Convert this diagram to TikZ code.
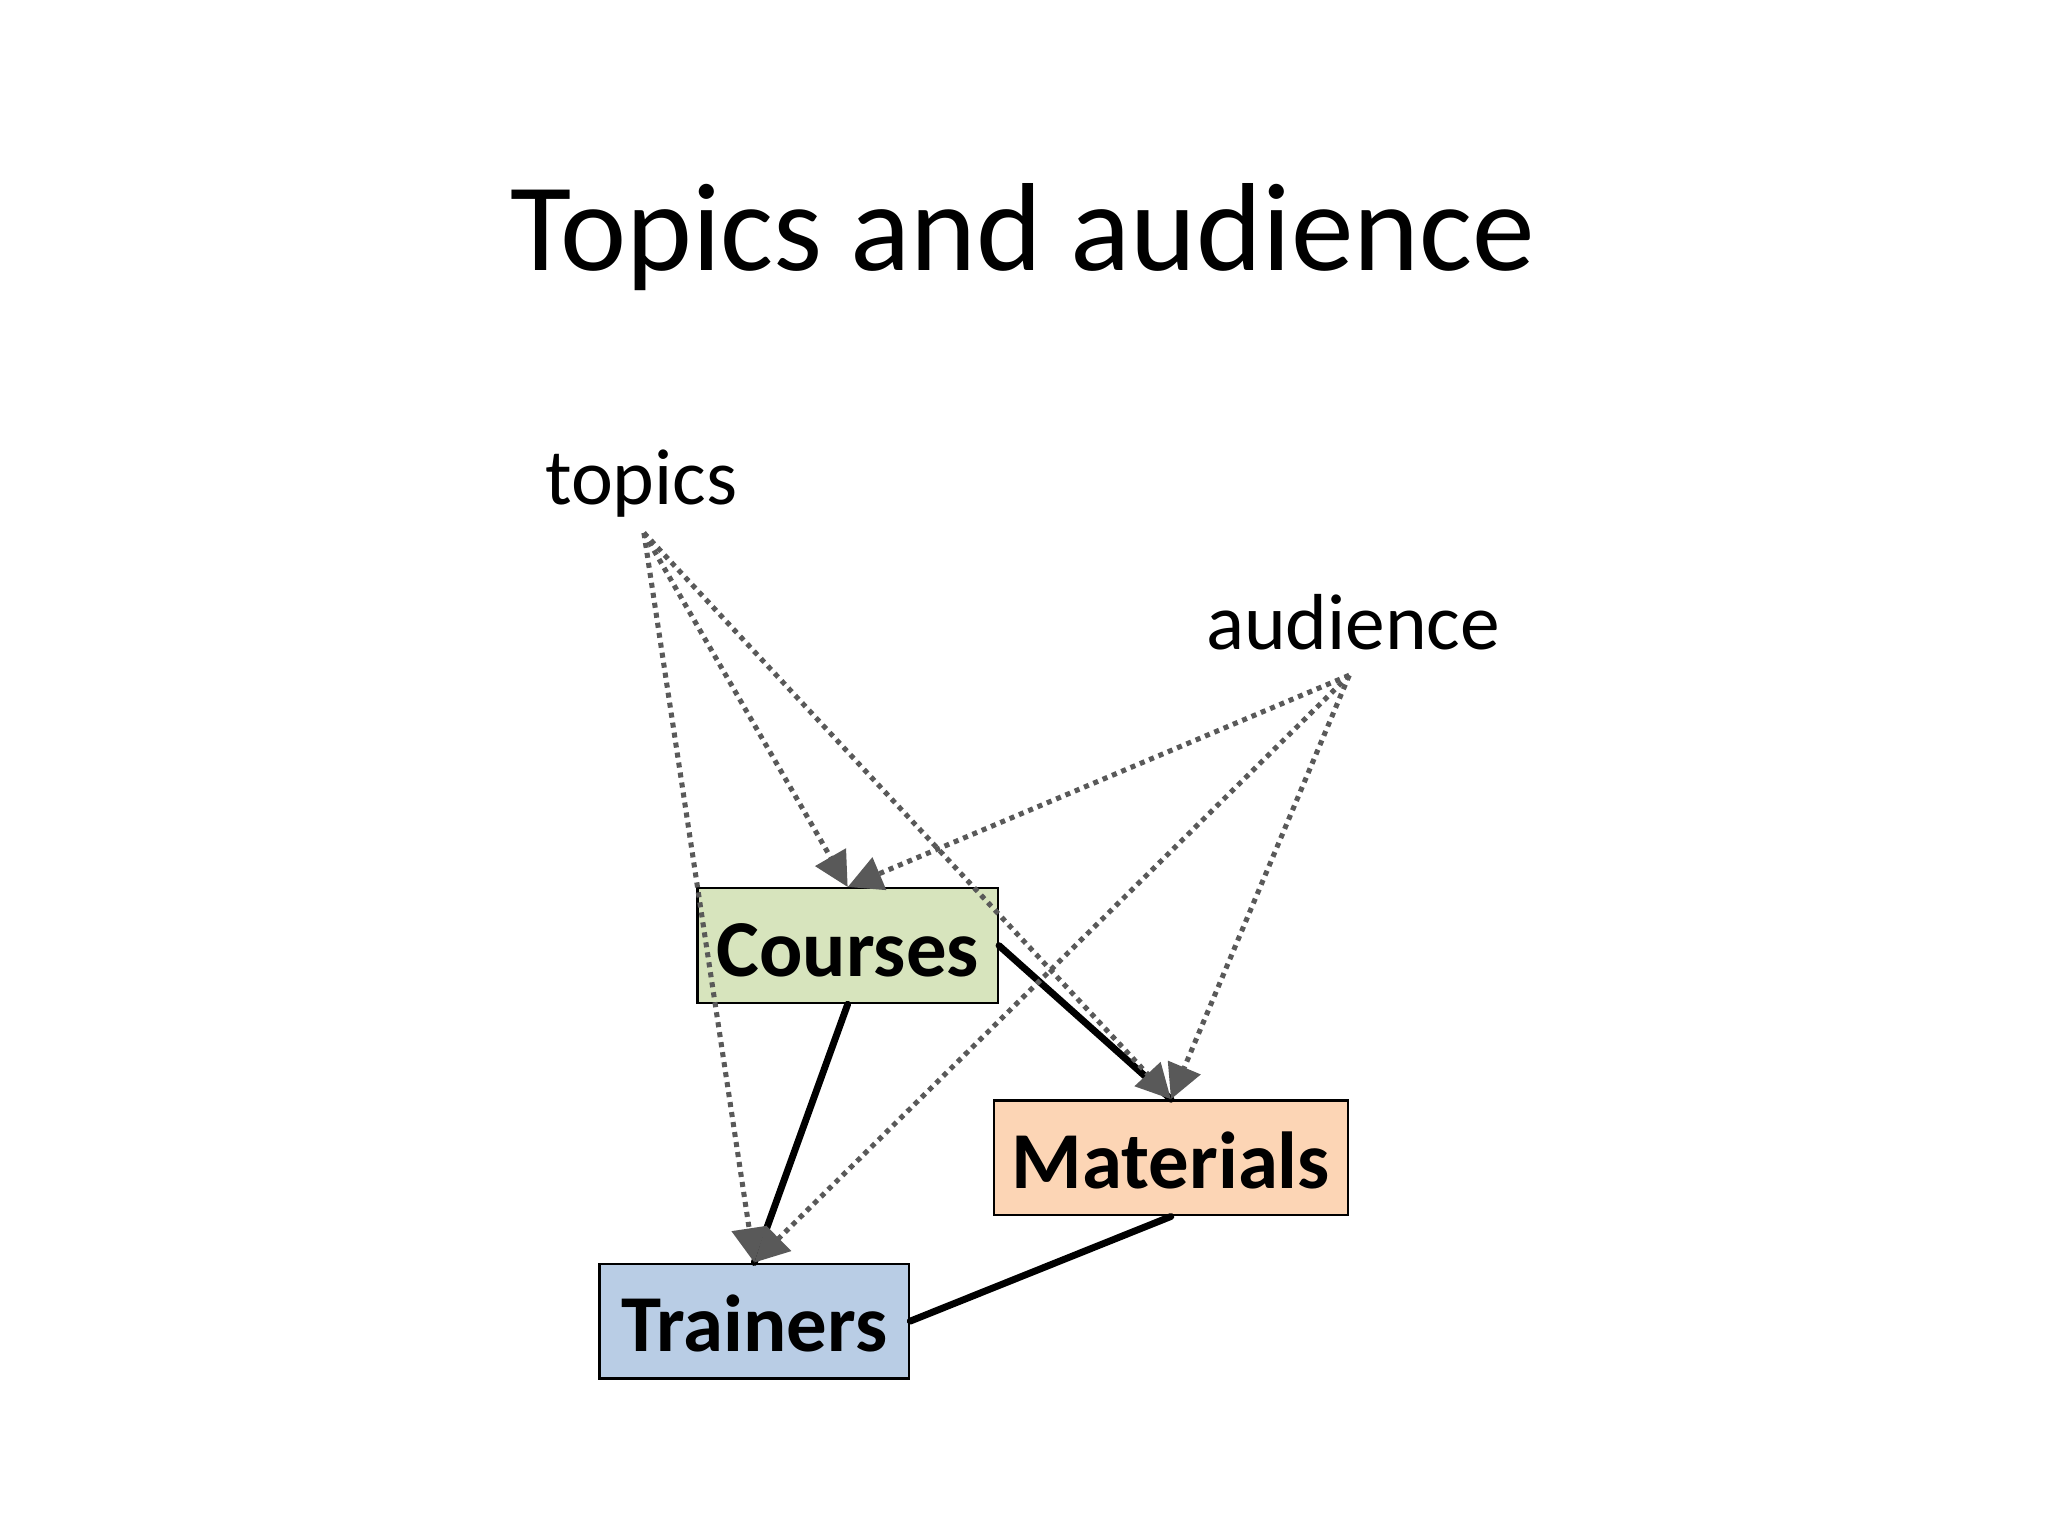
\documentclass[tikz,border=0pt]{standalone}
\usepackage{fontspec}
\setmainfont{Carlito}
\usepackage{tikz}
\usetikzlibrary{arrows.meta}

\definecolor{coursefill}{HTML}{D7E4BD}
\definecolor{materialfill}{HTML}{FCD5B5}
\definecolor{trainerfill}{HTML}{B9CDE5}
\definecolor{feedgrey}{HTML}{595959}

\begin{document}
\begin{tikzpicture}[
        box/.style={draw=black, line width=0.5pt, inner sep=0pt, minimum height=0.88cm,
            text height=0.47cm, text depth=0pt,
            font=\fontsize{17.6}{20}\selectfont\bfseries},
        word/.style={anchor=base, font=\fontsize{17.3}{20}\selectfont},
        link/.style={line width=1.5pt, line cap=round},
        feed/.style={draw=feedgrey, line width=1.1pt, dash pattern=on 1.1pt off 1.1pt,
            -{Triangle[length=7.5pt,width=7.5pt,fill=feedgrey]}}
    ]
                \useasboundingbox (0,0) rectangle (15.68,-11.76);

                \node[anchor=base, font=\fontsize{27.3}{32}\selectfont] (title) at (7.83,-2.07) {Topics and audience};

                \node[word] (topics) at (4.91,-3.86) {topics};
                \node[word] (audience) at (10.36,-4.97) {audience};
                \coordinate (topicsfoot) at (4.93,-4.08);
                \coordinate (audiencefoot) at (10.33,-5.17);

                \node[box, fill=coursefill, minimum width=2.30cm] (courses) at (6.49,-7.24) {Courses};
                \node[box, fill=materialfill, minimum width=2.71cm] (materials) at (8.965,-8.865) {Materials};
                \node[box, fill=trainerfill, minimum width=2.37cm] (trainers) at (5.775,-10.115) {Trainers};

                \draw[link] (courses.east) -- (materials.north);
                \draw[link] (courses.south) -- (trainers.north);
                \draw[link] (materials.south) -- (trainers.east);

                \draw[feed] (topicsfoot) -- (courses.north);
                \draw[feed] (topicsfoot) -- (trainers.north);
                \draw[feed] (topicsfoot) -- (materials.north);

                \draw[feed] (audiencefoot) -- (courses.north);
                \draw[feed] (audiencefoot) -- (trainers.north);
                \draw[feed] (audiencefoot) -- (materials.north);
            \end{tikzpicture}
\end{document}
